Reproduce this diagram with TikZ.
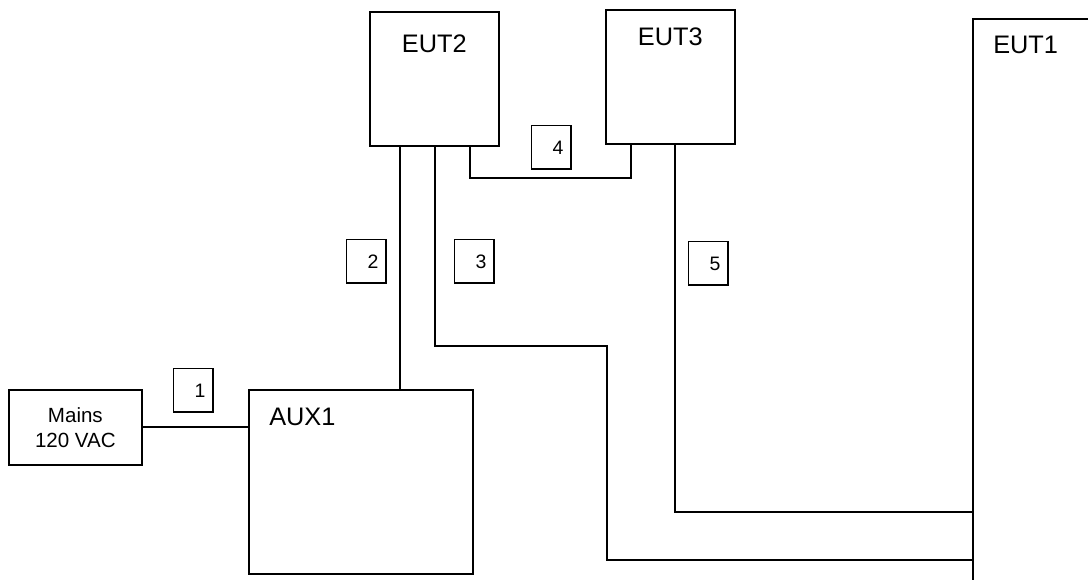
\documentclass[tikz,border=0pt]{standalone}
\usepackage{fontspec}
\setmainfont{Liberation Sans}
\tikzset{
  unit/.style={draw, line width=1.3pt, inner sep=0pt, anchor=north west},
  unitname/.style={inner sep=0pt, font=\fontsize{19}{23}\selectfont},
  cabletag/.style={draw, line width=1.1pt, inner xsep=0pt, inner ysep=0pt, anchor=north west,
    minimum width=29.6pt, minimum height=32.6pt, text width=18pt, align=right,
    font=\fontsize{14.6}{17}\selectfont},
  cable/.style={line width=1.3pt}
}
\begin{document}
\begin{tikzpicture}[x=0.75pt, y=-0.75pt, line join=miter, line cap=rect]
		\useasboundingbox (0,0) rectangle (1088,580);
		\clip (0,0) rectangle (1088,580);
		\node[unit, minimum width=99.75pt, minimum height=56.25pt, align=center,
		  font=\fontsize{15.4}{18.8}\selectfont] (mains) at (8,389) {Mains\\120 VAC};
		\node[unit, minimum width=168pt, minimum height=138pt] (aux1) at (248,389) {};
		\node[unit, minimum width=96.75pt, minimum height=100.5pt] (eut2) at (369,11) {};
		\node[unit, minimum width=96.75pt, minimum height=100.5pt] (eut3) at (605,9) {};
		\node[unit, minimum width=112.5pt, minimum height=450pt] (eut1) at (972,18) {};
		\node[unitname, anchor=west] (aux1-name) at ([shift={(21,28)}]aux1.north west) {AUX1};
		\node[unitname] (eut2-name) at ([shift={(0,33)}]eut2.north) {EUT2};
		\node[unitname] (eut3-name) at ([shift={(0,28)}]eut3.north) {EUT3};
		\node[unitname, anchor=west] (eut1-name) at ([shift={(21,27)}]eut1.north west) {EUT1};
		\node[cabletag] (tag1) at (173,368) {1};
		\node[cabletag] (tag2) at (346,239) {2};
		\node[cabletag] (tag3) at (454,239) {3};
		\node[cabletag] (tag4) at (531,125) {4};
		\node[cabletag] (tag5) at (688,241) {5};
		\draw[cable] (mains.east) -- (mains.east -| aux1.west);
		\draw[cable] (eut2.south -| 400,0) -- (aux1.north -| 400,0);
		\draw[cable] (eut2.south -| 435,0) |- (607,346) |- (eut1.west |- 0,560);
		\draw[cable] (eut2.south -| 470,0) |- (631,178) -- (eut3.south -| 631,0);
		\draw[cable] (eut3.south -| 675,0) |- (eut1.west |- 0,512);
\end{tikzpicture}
\end{document}
